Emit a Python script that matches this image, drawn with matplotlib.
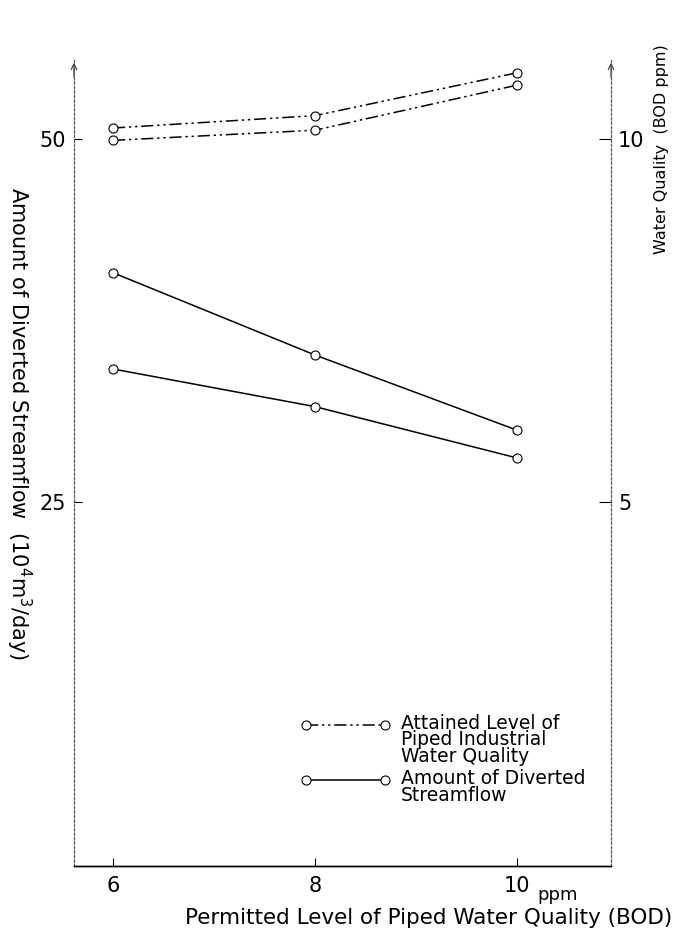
import matplotlib
matplotlib.use('Agg')
import numpy as np
import matplotlib.pyplot as plt
from matplotlib.lines import Line2D
from matplotlib.legend_handler import HandlerLine2D

# permitted BOD level of piped water (ppm)
permitted = [6, 8, 10]

# attained level of piped industrial water quality (BOD ppm, right axis)
quality_a = [10.15, 10.32, 10.91]
quality_b = [9.98, 10.12, 10.74]

# amount of diverted streamflow (10^4 m3/day, left axis)
flow_a = [40.8, 35.14, 29.97]
flow_b = [34.18, 31.59, 28.06]

left_ticks = [25, 50]
right_ticks = [5, 10]


class TopAligned(HandlerLine2D):
    # put the legend line level with the first line of its label
    def __init__(self, lift, **kw):
        super().__init__(**kw)
        self.lift = lift

    def create_artists(self, legend, orig_handle, xdescent, ydescent,
                       width, height, fontsize, trans):
        arts = super().create_artists(legend, orig_handle, xdescent, ydescent,
                                      width, height, fontsize, trans)
        for a in arts:
            a.set_ydata(np.asarray(a.get_ydata()) + self.lift)
        return arts


plt.rcParams['font.family'] = ['DejaVu Sans']

fig = plt.figure(figsize=(6.78, 9.34), dpi=100)
ax = fig.add_axes([0.1091, 0.0728, 0.7921, 0.863])
ax2 = ax.twinx()

dashdotdot = (0, (8, 2.5, 1.5, 2.5, 1.5, 2.5))
mk = dict(marker='o', markersize=6.5, markerfacecolor='white',
          markeredgecolor='black', markeredgewidth=0.8)

ax.plot(permitted, flow_a, color='black', lw=1.1, **mk)
ax.plot(permitted, flow_b, color='black', lw=1.1, **mk)
ax2.plot(permitted, quality_a, color='black', lw=1.1, ls=dashdotdot, **mk)
ax2.plot(permitted, quality_b, color='black', lw=1.1, ls=dashdotdot, **mk)

ax.set_xlim(5.614, 10.93)
ax.set_ylim(0, 55.43)
ax2.set_ylim(0, 55.43 / 5)

ax.set_xticks(permitted)
ax.set_yticks(left_ticks)
ax2.set_yticks(right_ticks)

ax.tick_params(axis='both', direction='in', length=6, width=0.8,
               labelsize=15, pad=6)
ax.tick_params(axis='x', pad=7)
ax2.tick_params(axis='y', direction='in', length=9, width=0.8,
                labelsize=15, pad=5)

for a in (ax, ax2):
    a.spines['top'].set_visible(False)
    for side in ('left', 'right'):
        a.spines[side].set_linestyle((0, (2, 2)))
        a.spines[side].set_linewidth(0.8)
        a.spines[side].set_color('#555555')
    a.spines['bottom'].set_linewidth(1.0)

# open arrow heads on top of the vertical axes
for xf in (0, 1):
    ax.annotate('', xy=(xf, 1.0), xytext=(xf, 0.975), xycoords='axes fraction',
                arrowprops=dict(arrowstyle='->', lw=0.8, color='#333333'))

fig.text(0.028, 0.546, r'Amount of Diverted Streamflow  (10$^4$m$^3$/day)',
         rotation=270, ha='center', va='center', fontsize=15)
fig.text(0.976, 0.84, 'Water Quality  (BOD ppm)',
         rotation=90, ha='center', va='center', fontsize=11.5)
fig.text(0.991, 0.017, 'Permitted Level of Piped Water Quality (BOD)',
         ha='right', va='center', fontsize=15.5)
fig.text(0.822, 0.042, 'ppm', ha='center', va='center', fontsize=13)

handles = [
    Line2D([], [], color='black', lw=1.1, ls=dashdotdot, **mk),
    Line2D([], [], color='black', lw=1.1, **mk),
]
labels = ['Attained Level of\nPiped Industrial\nWater Quality',
          'Amount of Diverted\nStreamflow']
leg = ax.legend(handles, labels, loc='lower left', bbox_to_anchor=(0.39, 0.055),
                numpoints=2, handlelength=4.8, handletextpad=0.55,
                labelspacing=0.15, frameon=False, fontsize=13.5,
                handler_map={handles[0]: TopAligned(11.5),
                             handles[1]: TopAligned(5.7)})
for t in leg.get_texts():
    t.set_linespacing(0.85)

fig.savefig('out.png', dpi=100)
